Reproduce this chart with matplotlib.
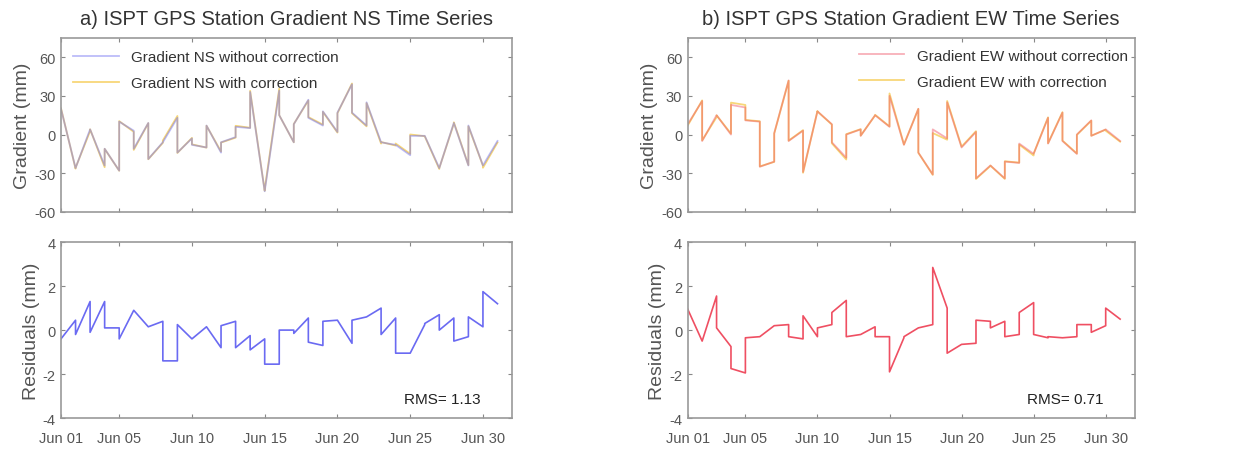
import numpy as np
import pandas as pd
import matplotlib
matplotlib.use("Agg")
import matplotlib.pyplot as plt
import matplotlib.dates as mdates

plt.rcParams["font.family"] = ["Liberation Sans", "DejaVu Sans"]
plt.rcParams["axes.unicode_minus"] = False

# one linear segment per day, Jun 01 .. Jun 30 (value at start / end of each day)
days = pd.date_range("2019-06-01", periods=30, freq="D")

ns_start = [20, -26, 4, -11, 10, -11, -19, -6, -14, -8, 7, -6, 6, 33, -44,
            15, 8, 13, 18, 17, 17, 25, -6, -8, -1, -1, -26, 9, 7, -24]
ns_end = [-26, 4, -24, -28, 3, 9, -6, 13, -3, -10, -14, -2, 5, -44, 34,
          -6, 27, 7, 2, 39, 7, -6, -8, -16, -1, -26, 9, -24, -24, -5]
ns_res_start = [-0.4, -0.2, -0.1, 0.1, -0.4, 0.9, 0.15, -1.4, 0.25, -0.4, 0.15, 0.2, -0.8, -0.9, -1.55,
                0.0, -0.15, -0.55, 0.4, 0.45, 0.45, 0.6, -0.2, -1.05, -1.05, 0.3, 0.0, -0.5, 0.6, 1.75]
ns_res_end = [0.45, 1.3, 1.3, 0.1, 0.9, 0.15, 0.4, -1.4, -0.4, 0.15, -0.8, 0.4, -0.25, -0.4, -1.55,
              0.0, 0.55, -0.7, 0.45, -0.6, 0.6, 1.0, 0.55, -1.05, 0.25, 0.7, 0.55, -0.3, 0.15, 1.2]

ew_start = [8, -5, 15, 23, 11, -25, 1, -5, -29, 18, -6, 0, -1, 15, 30,
            -8, -14, 4, 25, -10, -34, -24, -21, -7, -15, -7, -5, 0, -1, 4]
ew_end = [26, 15, 0, 21, 10, -21, 42, 3, 18, 8, -18, 4, 15, 6, -8,
          20, -31, -3, -10, 2, -24, -34, -22, -15, 13, 17, -15, 11, 4, -5]
ew_res_start = [0.95, -0.5, 0.1, -1.75, -0.35, -0.3, 0.2, -0.3, 0.65, 0.1, 0.8, -0.3, -0.2, -0.3, -1.9,
                -0.3, 0.1, 2.85, -1.05, -0.65, 0.45, 0.1, -0.3, 0.8, -0.2, -0.3, -0.35, 0.25, -0.1, 1.0]
ew_res_end = [-0.5, 1.55, -0.75, -1.95, -0.3, 0.2, 0.25, -0.4, -0.3, 0.25, 1.35, -0.2, 0.15, -0.3, -0.35,
              0.1, 0.25, 1.0, -0.65, -0.6, 0.4, 0.4, -0.2, 1.25, -0.35, -0.35, -0.3, 0.25, 0.2, 0.5]

rms_ns = 1.13
rms_ew = 0.71


def daily_series(start_vals, end_vals):
    t, v = [], []
    for d, a, b in zip(days, start_vals, end_vals):
        t += [d, d + pd.Timedelta(days=1)]
        v += [a, b]
    return t, np.array(v, dtype=float)


t, ns_raw = daily_series(ns_start, ns_end)
_, ns_res = daily_series(ns_res_start, ns_res_end)
_, ew_raw = daily_series(ew_start, ew_end)
_, ew_res = daily_series(ew_res_start, ew_res_end)
ns_cor = ns_raw - ns_res
ew_cor = ew_raw - ew_res

blue = "#6a6af2"
red = "#ef4f62"
yellow = "#f4c640"
gray_txt = "#555555"

fig = plt.figure(figsize=(12.55, 4.52), dpi=100)
ax_ns = fig.add_axes([0.0486, 0.529, 0.3594, 0.385])
ax_ns_r = fig.add_axes([0.0486, 0.073, 0.3594, 0.389])
ax_ew = fig.add_axes([0.548, 0.529, 0.356, 0.385])
ax_ew_r = fig.add_axes([0.548, 0.073, 0.356, 0.389])

xlim = (days[0], days[0] + pd.Timedelta(days=31))
xticks = [days[0]] + [days[0] + pd.Timedelta(days=k - 1) for k in (5, 10, 15, 20, 25, 30)]


def style(ax, ylim, yticks, ylabel, show_x):
    ax.set_xlim(xlim)
    ax.set_ylim(ylim)
    ax.set_yticks(yticks)
    ax.set_xticks(xticks)
    ax.xaxis.set_major_formatter(mdates.DateFormatter("%b %d"))
    if not show_x:
        ax.set_xticklabels([])
    ax.tick_params(direction="in", top=True, right=True, length=3,
                   labelsize=10.5, colors="#888888", labelcolor=gray_txt, pad=4)
    ax.tick_params(axis="x", pad=9)
    for s in ax.spines.values():
        s.set_color("#999999")
        s.set_linewidth(1.2)
    ax.set_ylabel(ylabel, fontsize=14, color=gray_txt, labelpad=2)


# corrected first, uncorrected drawn over it semi-transparent
ax_ns.plot(t, ns_cor, color=yellow, lw=1.3, alpha=0.7, label="Gradient NS with correction")
ax_ns.plot(t, ns_raw, color=blue, lw=1.3, alpha=0.45, label="Gradient NS without correction")
style(ax_ns, (-60, 75), [-60, -30, 0, 30, 60], "Gradient (mm)", False)
h, l = ax_ns.get_legend_handles_labels()
ax_ns.legend(h[::-1], l[::-1], loc="upper left", frameon=False, fontsize=11, handlelength=3.0,
             borderaxespad=0.5, borderpad=0.3, labelspacing=0.8, labelcolor="#333333")
ax_ns.set_title("a) ISPT GPS Station Gradient NS Time Series", fontsize=14.5, color="#333333", pad=10)

ax_ns_r.plot(t, ns_res, color=blue, lw=1.2)
style(ax_ns_r, (-4, 4), [-4, -2, 0, 2, 4], "Residuals (mm)", True)
ax_ns_r.text(0.93, 0.11, "RMS= %.2f" % rms_ns, transform=ax_ns_r.transAxes,
             ha="right", va="center", fontsize=11, color="#222222")

ax_ew.plot(t, ew_cor, color=yellow, lw=1.3, alpha=0.7, label="Gradient EW with correction")
ax_ew.plot(t, ew_raw, color=red, lw=1.3, alpha=0.45, label="Gradient EW without correction")
style(ax_ew, (-60, 75), [-60, -30, 0, 30, 60], "Gradient (mm)", False)
h, l = ax_ew.get_legend_handles_labels()
ax_ew.legend(h[::-1], l[::-1], loc="upper right", bbox_to_anchor=(0.995, 0.965), frameon=False,
             fontsize=11, handlelength=3.0, borderaxespad=0.0, borderpad=0.3,
             labelspacing=0.8, labelcolor="#333333")
ax_ew.set_title("b) ISPT GPS Station Gradient EW Time Series", fontsize=14.5, color="#333333", pad=10)

ax_ew_r.plot(t, ew_res, color=red, lw=1.2)
style(ax_ew_r, (-4, 4), [-4, -2, 0, 2, 4], "Residuals (mm)", True)
ax_ew_r.text(0.93, 0.11, "RMS= %.2f" % rms_ew, transform=ax_ew_r.transAxes,
             ha="right", va="center", fontsize=11, color="#222222")

fig.savefig("out.png", dpi=100)
